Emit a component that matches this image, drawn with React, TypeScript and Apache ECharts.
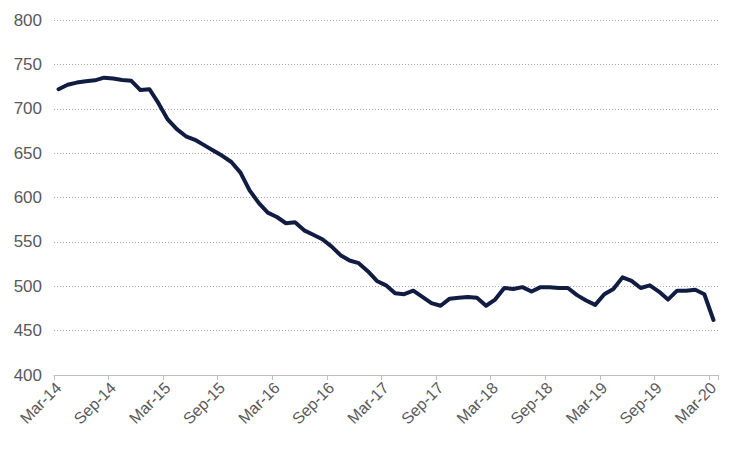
import React, { useEffect, useRef } from "react";
import * as echarts from "echarts";

const MONTHS = ["Jan", "Feb", "Mar", "Apr", "May", "Jun", "Jul", "Aug", "Sep", "Oct", "Nov", "Dec"];
const START_YEAR = 14;
const START_MONTH = 2; // Mar

const values = [
  722, 727, 729.5, 731, 732, 735, 734, 732.5, 731.5, 721, 722, 706,
  688, 677, 669, 665, 659, 653, 647, 640, 628, 608, 594, 583,
  578, 571, 572, 563, 558, 553, 545, 535, 529, 526, 517, 506,
  501, 492, 491, 495, 488, 481, 478, 486, 487, 488, 487, 478,
  485, 498, 497, 499, 494, 499, 499, 498, 498, 490, 484, 479,
  491, 497, 510, 506, 498, 501, 494, 485, 495, 495, 496, 491,
  462,
];

const categories = values.map((_, i) => {
  const m = START_MONTH + i;
  const y = START_YEAR + Math.floor(m / 12);
  return `${MONTHS[m % 12]}-${y}`;
});

const Y_MIN = 400;
const Y_MAX = 800;
const Y_STEP = 50;

export default function App() {
  const ref = useRef<HTMLDivElement>(null);
  useEffect(() => {
    if (!ref.current) return;
    const chart = echarts.init(ref.current, undefined, { renderer: "svg" });
    chart.setOption({
      animation: false,
      backgroundColor: "#ffffff",
      grid: { left: 54, right: 32, top: 20, bottom: 75, containLabel: false },
      xAxis: {
        type: "category",
        data: categories,
        boundaryGap: true,
        axisLine: { show: true, lineStyle: { color: "#bfbfbf", width: 1 } },
        axisTick: { show: true, interval: 5, length: 5, lineStyle: { color: "#bfbfbf" } },
        axisLabel: {
          interval: 5,
          rotate: 45,
          margin: 10,
          color: "#595959",
          fontSize: 16,
          fontFamily: "Liberation Sans, Arial, sans-serif",
        },
        splitLine: { show: false },
      },
      yAxis: {
        type: "value",
        min: Y_MIN,
        max: Y_MAX,
        interval: Y_STEP,
        axisLine: { show: false },
        axisTick: { show: false },
        axisLabel: {
          color: "#595959",
          fontSize: 17,
          margin: 12,
          fontFamily: "Liberation Sans, Arial, sans-serif",
        },
        splitLine: { show: true, lineStyle: { color: "#a6a6a6", type: [1, 2], width: 1 } },
      },
      series: [
        {
          type: "line",
          data: values,
          showSymbol: false,
          smooth: false,
          lineStyle: { color: "#111c43", width: 4, cap: "round", join: "round" },
        },
      ],
    });
    return () => chart.dispose();
  }, []);
  return (
    <div
      ref={ref}
      style={{ position: "fixed", left: 0, top: 0, width: 750, height: 450, background: "#fff" }}
    />
  );
}
